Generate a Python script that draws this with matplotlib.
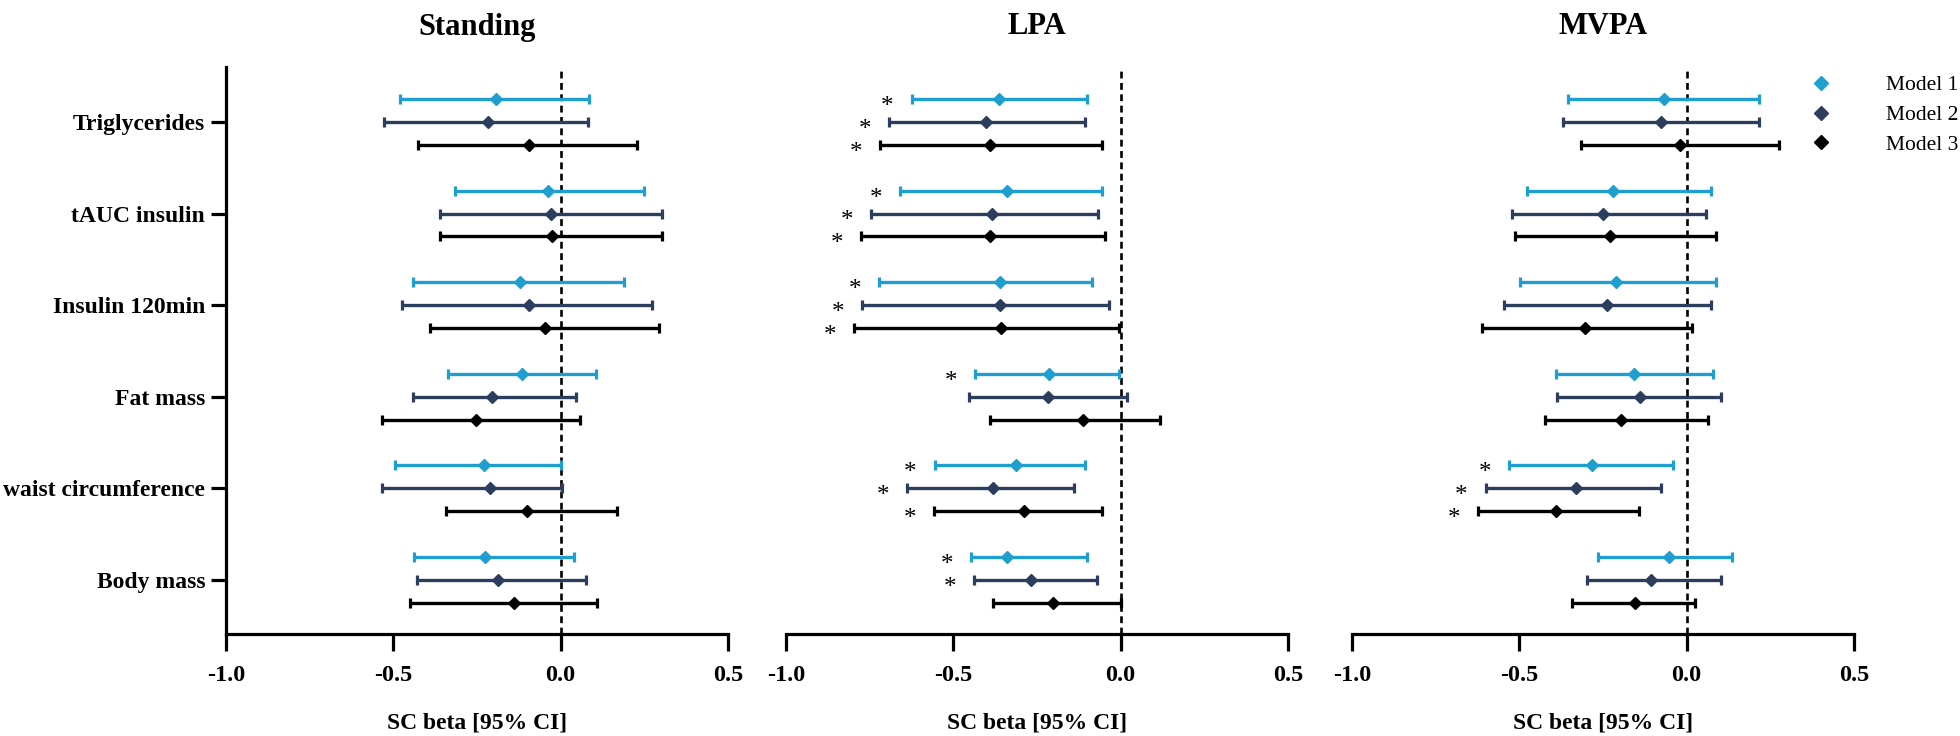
import matplotlib
matplotlib.use("Agg")
import matplotlib.pyplot as plt
from matplotlib.lines import Line2D
import numpy as np

# ---------------- data ----------------
categories = ["Triglycerides", "tAUC insulin", "Insulin 120min",
              "Fat mass", "waist circumference", "Body mass"]  # top -> bottom
panels = ["Standing", "LPA", "MVPA"]
models = ["Model 1", "Model 2", "Model 3"]
x_ticks = [-1.0, -0.5, 0.0, 0.5]
x_ticklabels = ["-1.0", "-0.5", "0.0", "0.5"]

# Standing
st_m1_est = [-0.194, -0.038, -0.122, -0.117, -0.230, -0.227]
st_m1_lo = [-0.480, -0.317, -0.440, -0.336, -0.495, -0.438]
st_m1_hi = [0.085, 0.250, 0.188, 0.106, 0.000, 0.041]
st_m2_est = [-0.217, -0.030, -0.096, -0.204, -0.210, -0.188]
st_m2_lo = [-0.527, -0.360, -0.473, -0.441, -0.534, -0.430]
st_m2_hi = [0.081, 0.304, 0.274, 0.045, 0.003, 0.077]
st_m3_est = [-0.096, -0.027, -0.046, -0.252, -0.101, -0.139]
st_m3_lo = [-0.427, -0.360, -0.391, -0.533, -0.343, -0.449]
st_m3_hi = [0.229, 0.304, 0.295, 0.059, 0.168, 0.110]
st_sig = [[0, 0, 0, 0, 0, 0], [0, 0, 0, 0, 0, 0], [0, 0, 0, 0, 0, 0]]

# LPA
lpa_m1_est = [-0.364, -0.340, -0.360, -0.215, -0.314, -0.341]
lpa_m1_lo = [-0.625, -0.660, -0.723, -0.434, -0.556, -0.447]
lpa_m1_hi = [-0.101, -0.057, -0.086, -0.005, -0.106, -0.102]
lpa_m2_est = [-0.401, -0.384, -0.360, -0.216, -0.380, -0.269]
lpa_m2_lo = [-0.691, -0.745, -0.774, -0.453, -0.638, -0.439]
lpa_m2_hi = [-0.107, -0.068, -0.036, 0.019, -0.138, -0.070]
lpa_m3_est = [-0.390, -0.391, -0.357, -0.114, -0.288, -0.201]
lpa_m3_lo = [-0.719, -0.776, -0.796, -0.390, -0.557, -0.380]
lpa_m3_hi = [-0.057, -0.047, -0.004, 0.118, -0.057, 0.000]
lpa_sig = [[1, 1, 1, 1, 1, 1], [1, 1, 1, 0, 1, 1], [1, 1, 1, 0, 1, 0]]

# MVPA
mv_m1_est = [-0.069, -0.220, -0.210, -0.157, -0.284, -0.053]
mv_m1_lo = [-0.356, -0.478, -0.499, -0.391, -0.531, -0.264]
mv_m1_hi = [0.216, 0.072, 0.087, 0.078, -0.040, 0.135]
mv_m2_est = [-0.077, -0.249, -0.239, -0.138, -0.331, -0.107]
mv_m2_lo = [-0.371, -0.522, -0.545, -0.387, -0.601, -0.298]
mv_m2_hi = [0.216, 0.059, 0.074, 0.103, -0.077, 0.104]
mv_m3_est = [-0.021, -0.228, -0.303, -0.195, -0.389, -0.155]
mv_m3_lo = [-0.317, -0.512, -0.613, -0.424, -0.623, -0.342]
mv_m3_hi = [0.277, 0.089, 0.015, 0.065, -0.142, 0.024]
mv_sig = [[0, 0, 0, 0, 1, 0], [0, 0, 0, 0, 1, 0], [0, 0, 0, 0, 1, 0]]

panel_data = [
    ([st_m1_est, st_m2_est, st_m3_est], [st_m1_lo, st_m2_lo, st_m3_lo],
     [st_m1_hi, st_m2_hi, st_m3_hi], st_sig),
    ([lpa_m1_est, lpa_m2_est, lpa_m3_est], [lpa_m1_lo, lpa_m2_lo, lpa_m3_lo],
     [lpa_m1_hi, lpa_m2_hi, lpa_m3_hi], lpa_sig),
    ([mv_m1_est, mv_m2_est, mv_m3_est], [mv_m1_lo, mv_m2_lo, mv_m3_lo],
     [mv_m1_hi, mv_m2_hi, mv_m3_hi], mv_sig),
]

# ---------------- style ----------------
colors = ["#1e9fcf", "#2c3d5e", "#000000"]
offsets = [0.25, 0.0, -0.25]
SERIF = ["Liberation Serif", "DejaVu Serif"]
plt.rcParams["font.family"] = SERIF

W, H = 1960, 736
fig = plt.figure(figsize=(W / 100, H / 100), dpi=100)

ax_left_px = [226, 786, 1352]
ax_w_px = 502
ax_top_px, ax_bot_px = 67, 634

ypos = np.arange(len(categories))[::-1]  # Triglycerides at top

for p, (title, (ests, los, his, sigs)) in enumerate(zip(panels, panel_data)):
    ax = fig.add_axes([ax_left_px[p] / W, 1 - ax_bot_px / H,
                       ax_w_px / W, (ax_bot_px - ax_top_px) / H])
    ax.set_xlim(-1.0, 0.5)
    ax.set_ylim(-0.59, 5.6)
    ax.axvline(0, color="black", lw=1.9, linestyle=(0, (2.6, 1.7)), zorder=1)

    for m in range(3):
        est = np.array(ests[m]); lo = np.array(los[m]); hi = np.array(his[m])
        yy = ypos + offsets[m]
        ax.errorbar(est, yy, xerr=[est - lo, hi - est], fmt="D",
                    color=colors[m], ms=6.4, elinewidth=2.4, capsize=3.8,
                    capthick=2.3, zorder=3)
        for i in range(len(categories)):
            if sigs[m][i]:
                ax.annotate("*", xy=(lo[i] - 0.072, yy[i]), xytext=(0, -10),
                            textcoords="offset points", ha="center",
                            va="baseline", fontsize=18, color="black")

    for s in ["top", "right"]:
        ax.spines[s].set_visible(False)
    for s in ["left", "bottom"]:
        ax.spines[s].set_linewidth(2.3)
    ax.set_xticks(x_ticks)
    ax.set_xticklabels(x_ticklabels, fontsize=17.5, fontweight="bold")
    ax.tick_params(axis="x", length=12, width=2.3, pad=10)
    if p == 0:
        ax.set_yticks(ypos)
        ax.set_yticklabels(categories, fontsize=17, fontweight="bold")
        ax.tick_params(axis="y", length=11, width=2.3, pad=4)
    else:
        ax.spines["left"].set_visible(False)
        ax.set_yticks([])
    ax.set_xlabel("SC beta [95% CI]", fontsize=17, fontweight="bold")
    ax.xaxis.label.set_va("center")
    ax.xaxis.set_label_coords(0.5, -(723 - ax_bot_px) / (ax_bot_px - ax_top_px))
    ax.set_title(title, fontsize=22, fontweight="bold", y=1.0,
                 pad=(ax_top_px - 22) * 0.72 - 9)
    ax.patch.set_alpha(0)

# legend
handles = [Line2D([], [], marker="D", ls="none", color=c, ms=6.8) for c in colors]
fig.legend(handles, models, loc="upper left",
           bbox_to_anchor=(1799.5 / W, 1 - 75 / H), frameon=False,
           fontsize=15.5, handlelength=2.0, handletextpad=2.03,
           labelspacing=0.46, borderpad=0, borderaxespad=0)

fig.savefig("out.png", dpi=100)
